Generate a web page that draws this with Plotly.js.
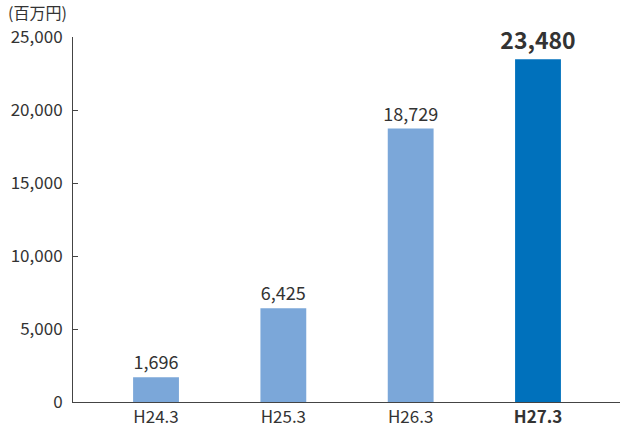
<!DOCTYPE html>
<html><head><meta charset="utf-8">
<script src="https://cdn.plot.ly/plotly-3.0.1.min.js"></script>
<style>body{margin:0;}#c{width:622px;height:429px;}</style>
</head><body><div id="c"></div>
<script>
const categories = ['H24.3', 'H25.3', 'H26.3', 'H27.3'];
const tickLabels = ['H24.3', 'H25.3', 'H26.3', '<b>H27.3</b>'];
const values = [1696, 6425, 18729, 23480];
const barColors = ['#7ba7d9', '#7ba7d9', '#7ba7d9', '#0071bc'];
const yTicks = [0, 5000, 10000, 15000, 20000, 25000];
const unitLabel = '(百万円)';

const font = 'Noto Sans CJK JP, Noto Sans, sans-serif';
const textColor = '#333333';

Plotly.newPlot('c', [{
  type: 'bar',
  x: categories,
  y: values,
  marker: {color: barColors},
  width: 0.36,
  texttemplate: values.map((v, i) => i === values.length - 1 ? '<b>%{y:,}</b>' : '%{y:,}'),
  textposition: 'outside',
  constraintext: 'none',
  cliponaxis: false,
  textfont: {family: font, color: textColor, size: values.map((v, i) => i === values.length - 1 ? 23 : 18)},
  hoverinfo: 'none'
}], {
  width: 622, height: 429,
  margin: {l: 73, r: 2, t: 37, b: 27},
  paper_bgcolor: '#ffffff', plot_bgcolor: '#ffffff',
  showlegend: false,
  font: {family: font, color: textColor, size: 17},
  xaxis: {
    type: 'category',
    tickvals: categories, ticktext: tickLabels,
    range: [-0.652, 3.644],
    showline: true, linecolor: '#444444', linewidth: 1,
    ticks: '', showgrid: false, zeroline: false,
    ticklabelstandoff: 0,
    tickfont: {size: 17, family: font, color: textColor}
  },
  yaxis: {
    range: [0, 25000],
    tickvals: yTicks,
    ticktext: yTicks.map(v => v.toLocaleString('en-US')),
    showline: true, linecolor: '#444444', linewidth: 1,
    ticks: 'inside', ticklen: 5, tickcolor: '#444444',
    showgrid: false, zeroline: false,
    ticklabelstandoff: 6,
    tickfont: {size: 17, family: font, color: textColor}
  },
  annotations: [{
    text: unitLabel, xref: 'paper', yref: 'paper', x: -67/547, y: 1, xanchor: 'left', yanchor: 'bottom',
    yshift: 11, showarrow: false, font: {size: 16, family: font, color: textColor}
  }]
}, {displayModeBar: false, staticPlot: true});
</script></body></html>
